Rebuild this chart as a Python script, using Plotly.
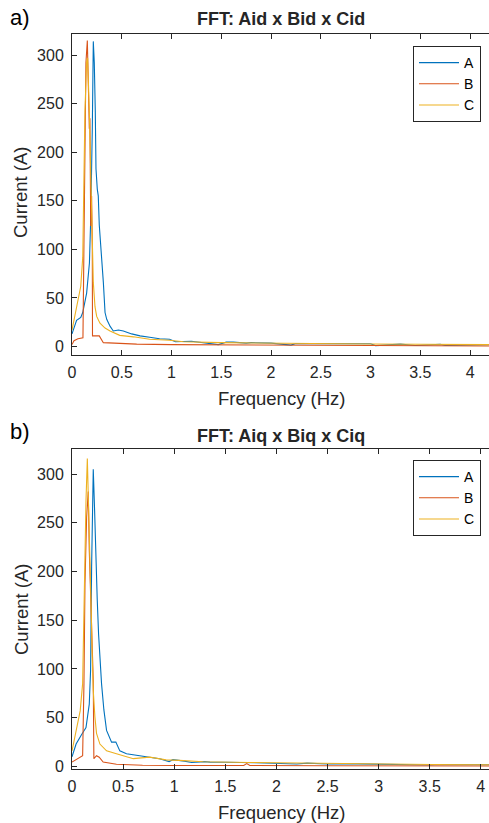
import plotly.graph_objects as go

# ---------------- data: panel a (d-axis currents) ----------------
freq_a_A = [0, 0.046, 0.088, 0.108, 0.147, 0.175, 0.188, 0.198, 0.204, 0.214, 0.224, 0.234,
            0.241, 0.254, 0.264, 0.274, 0.288, 0.298, 0.315, 0.332, 0.349, 0.382, 0.415,
            0.466, 0.516, 0.6, 0.684, 0.78, 0.88, 0.98, 1.04, 1.2, 1.47, 1.55, 1.62, 1.75,
            1.8, 2.0, 2.2, 2.25, 2.5, 3.0, 3.05, 3.3, 3.45, 3.7, 3.75, 4.0, 4.19]
amp_a_A = [13, 27, 30, 35, 55, 86, 131, 173, 224, 314, 292, 242, 183, 162, 155, 125, 107,
           90, 66, 35, 28, 21, 16, 17, 16, 13, 11, 9.5, 8, 7.5, 5, 5.5, 2, 4.5, 4.5, 3.5,
           4, 3.5, 1.5, 3.2, 3, 2.8, 1, 2.5, 1, 2.2, 1, 2, 2]

freq_a_B = [0, 0.02, 0.06, 0.11, 0.12, 0.13, 0.14, 0.154, 0.164, 0.174, 0.18, 0.188, 0.197,
            0.204, 0.206, 0.23, 0.274, 0.315, 0.45, 0.65, 1.0, 2.0, 3.0, 4.19]
amp_a_B = [2, 6, 8, 9, 104, 190, 292, 315, 258, 224, 235, 124, 155, 102, 11, 11, 11, 4, 3.5,
           2.5, 2, 1.5, 1, 0.5]

freq_a_C = [0, 0.046, 0.088, 0.108, 0.12, 0.13, 0.147, 0.157, 0.174, 0.181, 0.191, 0.2,
            0.214, 0.231, 0.248, 0.281, 0.332, 0.382, 0.48, 0.617, 0.78, 0.98, 1.12, 1.5,
            2.0, 2.5, 3.0, 3.5, 4.0, 4.19]
amp_a_C = [17, 41, 62, 92, 190, 242, 293, 297, 242, 207, 155, 107, 66, 41, 31, 24, 19, 16,
           11.5, 10, 7.5, 6.5, 5, 4, 3.3, 3, 2.6, 2.3, 2, 2]

# ---------------- data: panel b (q-axis currents) ----------------
freq_b_A = [0, 0.04, 0.09, 0.137, 0.169, 0.182, 0.192, 0.201, 0.208, 0.221, 0.234, 0.247,
            0.26, 0.273, 0.289, 0.312, 0.338, 0.387, 0.429, 0.468, 0.533, 0.662, 0.76, 0.857,
            0.95, 0.987, 1.1, 1.17, 1.3, 1.35, 1.5, 1.73, 1.8, 2.2, 2.3, 2.5, 2.8, 3.5, 3.6,
            4.0, 4.08]
amp_b_A = [10, 23, 32, 40, 64, 99, 205, 256, 305, 263, 205, 171, 136, 109, 85, 58, 37, 25,
           25, 16, 13, 11, 9.6, 8, 5, 7, 5.5, 4, 5, 4.5, 4.3, 4.5, 3.8, 2.5, 3.4, 2.5, 2.7,
           1.5, 2, 1.7, 1.7]

freq_b_B = [0, 0.104, 0.117, 0.127, 0.143, 0.159, 0.169, 0.182, 0.192, 0.201, 0.208, 0.214,
            0.24, 0.266, 0.305, 0.435, 0.69, 1.0, 1.68, 1.71, 1.74, 2.5, 3.5, 4.08]
amp_b_B = [4.5, 11, 85, 188, 256, 282, 222, 181, 136, 102, 88, 8, 11, 9.5, 4.5, 2.2, 1.2, 1,
           1, 3, 1, 0.8, 0.6, 0.5]

freq_b_C = [0, 0.04, 0.08, 0.104, 0.117, 0.127, 0.137, 0.15, 0.162, 0.175, 0.188, 0.198,
            0.208, 0.224, 0.24, 0.273, 0.338, 0.435, 0.6, 0.76, 0.92, 1.05, 1.28, 1.73, 2.22,
            2.71, 3.52, 4.08]
amp_b_C = [16, 37, 57, 85, 171, 222, 273, 316, 273, 222, 160, 112, 78, 51, 34, 23, 16, 13,
           8, 9.6, 6.8, 6.2, 4.8, 4.1, 3.4, 2.7, 2, 1.7]

series_names = ["A", "B", "C"]
series_colors = ["#0072BD", "#D95319", "#EDB120"]

x_ticks = [0, 0.5, 1, 1.5, 2, 2.5, 3, 3.5, 4]
y_ticks = [0, 50, 100, 150, 200, 250, 300]

# ---------------- figure ----------------
W, H = 489, 823


def fx(p):
    return p / W


def fy(p):
    return 1 - p / H


INK = "#262626"
FONT = "Liberation Sans, Arial, Helvetica, sans-serif"

fig = go.Figure()

panel_a = [(freq_a_A, amp_a_A), (freq_a_B, amp_a_B), (freq_a_C, amp_a_C)]
panel_b = [(freq_b_A, amp_b_A), (freq_b_B, amp_b_B), (freq_b_C, amp_b_C)]

for (f, a), name, col in zip(panel_a, series_names, series_colors):
    fig.add_trace(go.Scatter(x=f, y=a, mode="lines", name=name,
                             line=dict(color=col, width=1.1),
                             xaxis="x", yaxis="y", legend="legend"))

for (f, a), name, col in zip(panel_b, series_names, series_colors):
    fig.add_trace(go.Scatter(x=f, y=a, mode="lines", name=name,
                             line=dict(color=col, width=1.1),
                             xaxis="x2", yaxis="y2", legend="legend2"))

axis_common = dict(showgrid=False, zeroline=False, showline=True, linecolor=INK,
                   linewidth=1, ticks="inside", ticklen=5, tickcolor=INK,
                   tickfont=dict(family=FONT, size=16, color=INK), automargin=False)

legend_common = dict(bgcolor="white", bordercolor=INK, borderwidth=1,
                     font=dict(family=FONT, size=14, color="#000000"),
                     xanchor="left", yanchor="top", itemwidth=40,
                     itemclick=False, itemdoubleclick=False)

fig.update_layout(
    width=W, height=H,
    margin=dict(l=0, r=0, t=0, b=0),
    paper_bgcolor="white", plot_bgcolor="white",
    showlegend=True,
    xaxis=dict(domain=[fx(72), 1], range=[0, 4.19], anchor="y", tickvals=x_ticks,
               mirror="ticks", ticklabelstandoff=3, **axis_common),
    yaxis=dict(domain=[fy(355), fy(34.3)], range=[-8.7, 321.3], anchor="x",
               tickvals=y_ticks, ticklabelstandoff=4, **axis_common),
    xaxis2=dict(domain=[fx(72), 1], range=[0, 4.08], anchor="y2", tickvals=x_ticks,
                mirror="ticks", ticklabelstandoff=3, **axis_common),
    yaxis2=dict(domain=[fy(769), fy(449)], range=[-2.6, 325.7], anchor="x2",
                tickvals=y_ticks, ticklabelstandoff=4, **axis_common),
    legend=dict(x=fx(413), y=fy(46), **legend_common),
    legend2=dict(x=fx(413), y=fy(460), **legend_common),
)

annotations = [
    ("a)", 8, 17.5, "left", 22, "#000000"),
    ("<b>FFT: Aid x Bid x Cid</b>", 281, 19, "center", 18, INK),
    ("Frequency (Hz)", 281, 398, "center", 18.5, INK),
    ("b)", 8, 431, "left", 22, "#000000"),
    ("<b>FFT: Aiq x Biq x Ciq</b>", 281, 436, "center", 18, INK),
    ("Frequency (Hz)", 281, 812, "center", 18.5, INK),
]
for text, x, y, xa, size, color in annotations:
    fig.add_annotation(text=text, x=fx(x), y=fy(y), xref="paper", yref="paper",
                       xanchor=xa, yanchor="middle", showarrow=False,
                       font=dict(family=FONT, size=size, color=color))

for yc in (192, 609):
    fig.add_annotation(text="Current (A)", x=fx(21), y=fy(yc), xref="paper", yref="paper",
                       xanchor="center", yanchor="middle", textangle=-90, showarrow=False,
                       font=dict(family=FONT, size=18.5, color=INK))

fig.write_html("out.html")
